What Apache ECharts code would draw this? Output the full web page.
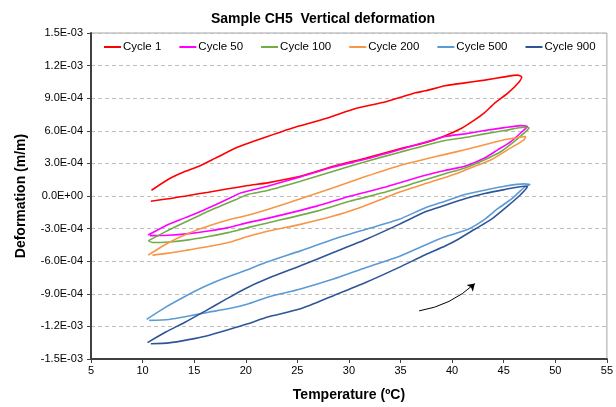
<!DOCTYPE html>
<html>
<head>
<meta charset="utf-8">
<script src="https://cdn.jsdelivr.net/npm/echarts@6/dist/echarts.min.js"></script>
<style>html,body{margin:0;padding:0;background:#fff}#c{width:616px;height:407px}</style>
</head>
<body>
<div id="c"></div>
<script>
// Temperatures (ºC) and deformations (m/m), traced around each loop
var c1Temp = [10.86,12.55,14.15,15.58,17.02,19.24,22.11,24.98,27.85,30.72,33.59,36.45,37.41,39.32,41.23,43.15,45.06,46.33,46.75,46.49,45.37,44.10,43.15,42.19,40.92,39.32,37.40,34.86,31.67,28.49,25.30,22.11,20.20,18.29,16.38,14.46,12.55,10.80];
var c1Def  = [0.053e-3,0.157e-3,0.227e-3,0.279e-3,0.346e-3,0.450e-3,0.547e-3,0.639e-3,0.715e-3,0.807e-3,0.867e-3,0.950e-3,0.968e-3,1.014e-3,1.041e-3,1.066e-3,1.096e-3,1.112e-3,1.096e-3,1.050e-3,0.944e-3,0.853e-3,0.767e-3,0.700e-3,0.624e-3,0.555e-3,0.490e-3,0.432e-3,0.349e-3,0.273e-3,0.181e-3,0.121e-3,0.096e-3,0.066e-3,0.035e-3,0.005e-3,-0.026e-3,-0.048e-3];

var c50Temp = [10.54,12.24,14.15,16.06,18.00,19.56,22.11,25.30,28.49,31.67,34.86,39.32,41.23,43.15,45.06,46.65,47.29,46.97,45.70,44.42,43.15,41.23,39.32,37.41,33.27,30.08,26.89,22.11,20.20,18.29,16.38,14.46,12.55,10.70];
var c50Def  = [-0.359e-3,-0.273e-3,-0.199e-3,-0.124e-3,-0.040e-3,0.029e-3,0.090e-3,0.176e-3,0.267e-3,0.340e-3,0.425e-3,0.547e-3,0.572e-3,0.602e-3,0.629e-3,0.648e-3,0.639e-3,0.608e-3,0.501e-3,0.425e-3,0.349e-3,0.273e-3,0.235e-3,0.190e-3,0.075e-3,-0.002e-3,-0.093e-3,-0.206e-3,-0.245e-3,-0.291e-3,-0.322e-3,-0.346e-3,-0.361e-3,-0.365e-3];

var c100Temp = [10.54,12.24,14.15,16.06,19.00,20.20,22.11,25.30,28.49,31.67,34.86,39.32,41.23,43.15,45.06,46.97,47.45,47.13,46.01,44.74,43.15,41.23,39.32,37.41,36.45,33.27,30.08,26.89,22.11,20.20,18.29,16.38,14.46,12.55,10.96,10.60];
var c100Def  = [-0.413e-3,-0.328e-3,-0.240e-3,-0.154e-3,-0.035e-3,0.014e-3,0.050e-3,0.135e-3,0.227e-3,0.318e-3,0.401e-3,0.511e-3,0.538e-3,0.572e-3,0.602e-3,0.633e-3,0.629e-3,0.593e-3,0.501e-3,0.410e-3,0.334e-3,0.258e-3,0.205e-3,0.150e-3,0.121e-3,0.029e-3,-0.048e-3,-0.139e-3,-0.248e-3,-0.291e-3,-0.337e-3,-0.373e-3,-0.404e-3,-0.423e-3,-0.428e-3,-0.415e-3];

var c200Temp = [10.54,12.55,14.46,16.38,18.29,20.20,22.11,25.30,28.49,31.67,34.86,39.32,41.23,43.15,45.06,47.13,46.97,45.37,43.79,42.19,40.60,38.68,37.41,34.86,33.11,31.03,28.49,25.30,22.11,20.20,18.29,16.38,14.46,12.55,10.96];
var c200Def  = [-0.544e-3,-0.428e-3,-0.343e-3,-0.276e-3,-0.221e-3,-0.178e-3,-0.125e-3,-0.026e-3,0.075e-3,0.181e-3,0.279e-3,0.383e-3,0.425e-3,0.471e-3,0.517e-3,0.547e-3,0.517e-3,0.425e-3,0.334e-3,0.273e-3,0.212e-3,0.151e-3,0.114e-3,0.035e-3,-0.032e-3,-0.108e-3,-0.185e-3,-0.261e-3,-0.325e-3,-0.373e-3,-0.428e-3,-0.465e-3,-0.496e-3,-0.526e-3,-0.544e-3];

var c500Temp = [10.39,12.24,14.15,16.06,17.97,19.89,22.11,25.30,28.49,31.67,34.86,37.41,39.32,41.23,43.15,45.06,46.97,47.54,47.13,45.70,44.42,43.15,41.55,39.32,37.41,34.86,31.67,28.49,25.30,22.11,20.20,18.29,16.38,14.46,12.55,10.64];
var c500Def  = [-1.136e-3,-1.023e-3,-0.922e-3,-0.831e-3,-0.755e-3,-0.688e-3,-0.606e-3,-0.505e-3,-0.398e-3,-0.306e-3,-0.215e-3,-0.108e-3,-0.048e-3,0.014e-3,0.053e-3,0.090e-3,0.112e-3,0.105e-3,0.090e-3,-0.032e-3,-0.117e-3,-0.215e-3,-0.306e-3,-0.375e-3,-0.450e-3,-0.556e-3,-0.657e-3,-0.764e-3,-0.855e-3,-0.931e-3,-0.993e-3,-1.038e-3,-1.069e-3,-1.105e-3,-1.136e-3,-1.145e-3];

var c900Temp = [10.48,12.24,14.15,16.06,17.97,19.89,22.11,25.30,28.49,31.67,34.86,37.41,39.32,41.23,43.15,45.06,46.97,47.29,46.65,45.37,43.79,42.19,40.60,39.32,37.41,34.86,31.67,28.49,25.30,22.11,20.20,18.29,16.38,14.46,12.55,10.80];
var c900Def  = [-1.349e-3,-1.252e-3,-1.160e-3,-1.059e-3,-0.956e-3,-0.855e-3,-0.760e-3,-0.642e-3,-0.520e-3,-0.398e-3,-0.261e-3,-0.145e-3,-0.085e-3,-0.026e-3,0.023e-3,0.059e-3,0.090e-3,0.084e-3,0.014e-3,-0.093e-3,-0.215e-3,-0.306e-3,-0.398e-3,-0.460e-3,-0.540e-3,-0.657e-3,-0.794e-3,-0.917e-3,-1.038e-3,-1.114e-3,-1.176e-3,-1.231e-3,-1.283e-3,-1.322e-3,-1.352e-3,-1.359e-3];

// Arrow annotation (start and end, in data units)
var arrowTemp = [36.8, 42.2];
var arrowDef  = [-1.057e-3, -0.806e-3];

var seriesNames = ['Cycle 1','Cycle 50','Cycle 100','Cycle 200','Cycle 500','Cycle 900'];
var seriesColors = ['#FF0000','#FF00FF','#70AD47','#F79646','#5B9BD5','#2F5597'];
var temps = [c1Temp,c50Temp,c100Temp,c200Temp,c500Temp,c900Temp];
var defs  = [c1Def,c50Def,c100Def,c200Def,c500Def,c900Def];

function zip(a,b){ var r=[]; for (var i=0;i<a.length;i++) r.push([a[i],b[i]]); return r; }
function sci(v){
  var s = v.toExponential(1);
  var parts = s.split('e');
  var m = parts[0], e = parseInt(parts[1],10);
  if (Math.abs(v) < 1e-12) { m = '0.0'; e = 0; }
  var es = (e < 0 ? '-' : '+') + (Math.abs(e) < 10 ? '0' : '') + Math.abs(e);
  return m + 'E' + es;
}

var FONT = 'Liberation Sans, Arial, sans-serif';
var series = seriesNames.map(function(n,i){
  return {
    name: n, type: 'line', data: zip(temps[i], defs[i]),
    showSymbol: false, symbol: 'none', smooth: 0.2,
    lineStyle: { color: seriesColors[i], width: 1.6 },
    itemStyle: { color: seriesColors[i] },
    z: 3
  };
});
series.push({
  type: 'lines', coordinateSystem: 'cartesian2d',
  data: [{ coords: zip(arrowTemp, arrowDef) }],
  symbol: ['none','arrow'], symbolSize: 7,
  lineStyle: { color: '#000', width: 1, curveness: -0.15, opacity: 1 },
  silent: true, z: 4
});

var chart = echarts.init(document.getElementById('c'), null, { renderer: 'canvas' });
chart.setOption({
  animation: false,
  backgroundColor: '#fff',
  textStyle: { fontFamily: FONT },
  title: {
    text: 'Sample CH5  Vertical deformation',
    left: 318, top: 7, textAlign: 'center',
    textStyle: { fontFamily: FONT, fontSize: 14, fontWeight: 'bold', color: '#000' }
  },
  legend: {
    data: seriesNames, left: 99, top: 36,
    icon: 'rect', itemWidth: 17, itemHeight: 2, itemGap: 18,
    textStyle: { fontFamily: FONT, fontSize: 11.5, color: '#000', padding: [0,0,0,-3] }
  },
  grid: { left: 91, right: 2, top: 33, bottom: 48, show: true, borderColor: '#A6A6A6', borderWidth: 1, containLabel: false },
  xAxis: {
    type: 'value', min: 5, max: 55, interval: 5,
    name: 'Temperature (ºC)', nameLocation: 'middle', nameGap: 29,
    nameTextStyle: { fontFamily: FONT, fontSize: 14, fontWeight: 'bold', color: '#000' },
    axisLine: { show: true, onZero: false, lineStyle: { color: '#404040', width: 2 } },
    axisTick: { show: true, inside: false, length: 4, lineStyle: { color: '#404040', width: 1 } },
    axisLabel: { fontFamily: FONT, fontSize: 11, color: '#000', margin: 6 },
    splitLine: { show: false }
  },
  yAxis: {
    type: 'value', min: -1.5e-3, max: 1.5e-3, interval: 3e-4,
    name: 'Deformation (m/m)', nameLocation: 'middle', nameGap: 63, nameRotate: 90,
    nameTextStyle: { fontFamily: FONT, fontSize: 14, fontWeight: 'bold', color: '#000' },
    axisLine: { show: true, onZero: false, lineStyle: { color: '#404040', width: 2 } },
    axisTick: { show: true, inside: false, length: 4, lineStyle: { color: '#404040', width: 1 } },
    axisLabel: { fontFamily: FONT, fontSize: 11, color: '#000', margin: 8, formatter: sci },
    splitLine: { show: true, lineStyle: { color: '#BFBFBF', type: [4,3], width: 1 } }
  },
  series: series
});
</script>
</body>
</html>
